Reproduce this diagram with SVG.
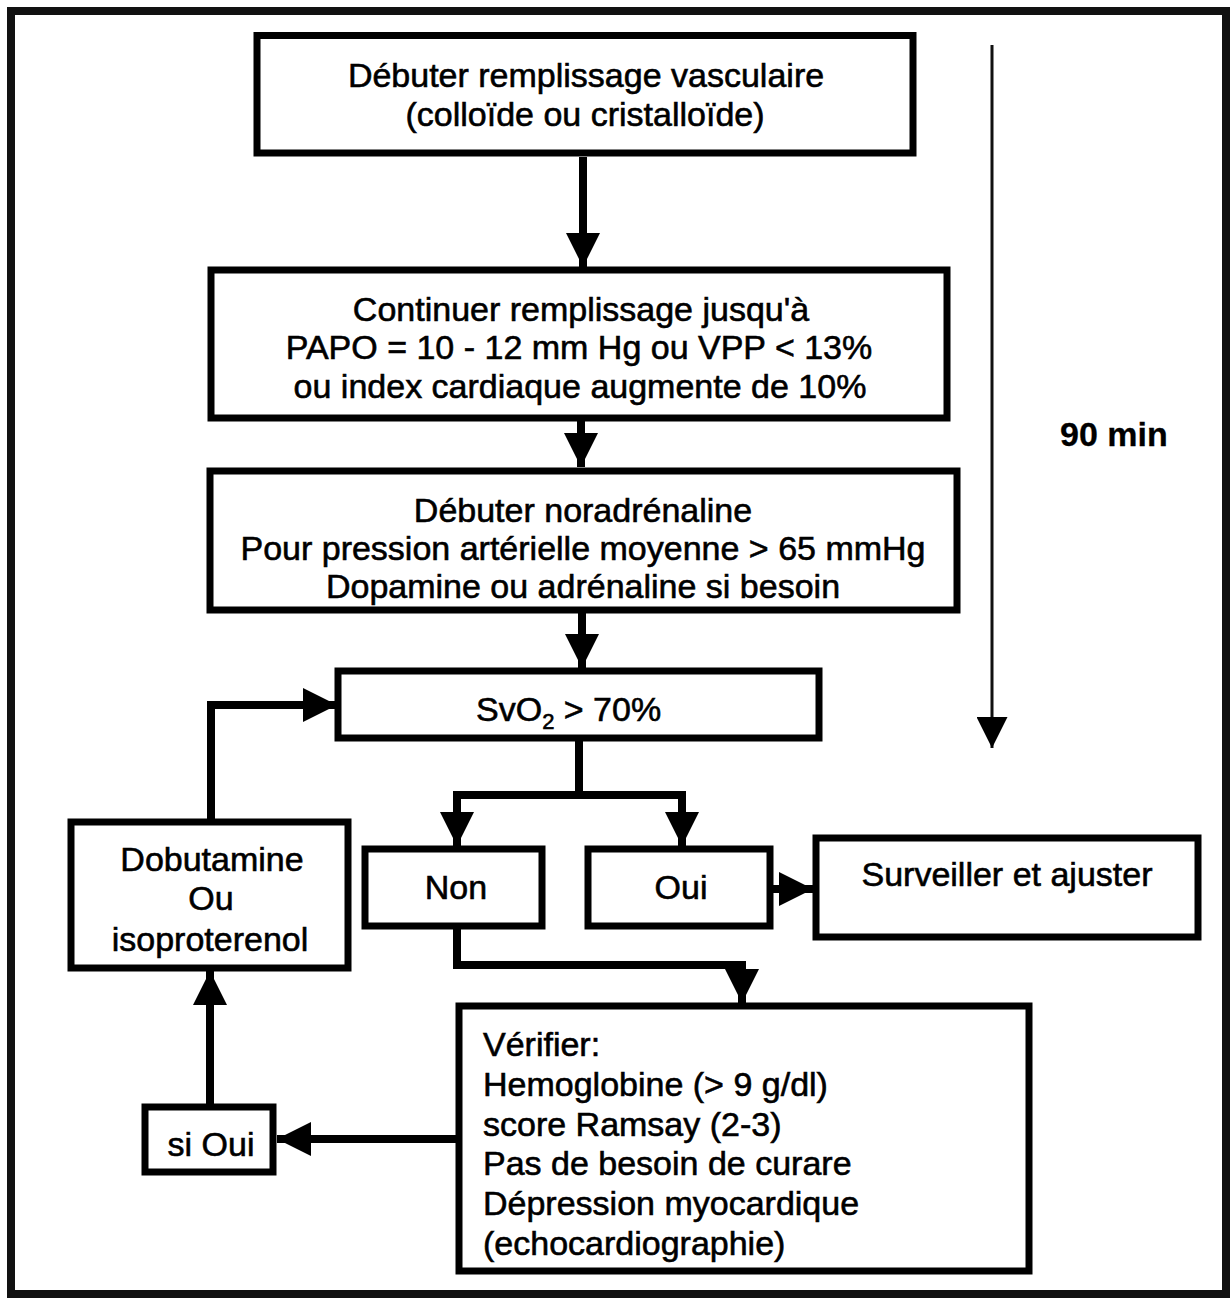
<svg xmlns="http://www.w3.org/2000/svg" width="1231" height="1301" viewBox="0 0 1231 1301">
  <style>
    .box { fill: #fff; stroke: #000; stroke-width: 7; }
    .frame { fill: none; stroke: #111; stroke-width: 8; }
    .lbl { font-family: "Liberation Sans", Arial, Helvetica, sans-serif; font-size: 34px; fill: #000; stroke: #000; stroke-width: 0.6; }
    .mid { text-anchor: middle; }
    .bold { font-weight: bold; stroke-width: 0.3; }
    .conn { fill: none; stroke: #000; stroke-width: 8; stroke-linejoin: miter; }
    .thin { fill: none; stroke: #111; stroke-width: 3; }
  </style>
  <defs>
    <marker id="ah" markerUnits="userSpaceOnUse" markerWidth="34" markerHeight="34" viewBox="0 0 34 34" refX="34" refY="17" orient="auto">
      <path d="M0,0 L34,17 L0,34 z" fill="#000"/>
    </marker>
    <marker id="ahThin" markerUnits="userSpaceOnUse" markerWidth="31" markerHeight="31" viewBox="0 0 31 31" refX="31" refY="15.5" orient="auto">
      <path d="M0,0 L31,15.5 L0,31 z" fill="#000"/>
    </marker>
  </defs>

  <rect id="page-frame" class="frame" x="11" y="11" width="1215" height="1283"/>

  <g id="connectors">
    <path class="conn" d="M583,157 V267" marker-end="url(#ah)"/>
    <path class="conn" d="M581,418 V467" marker-end="url(#ah)"/>
    <path class="conn" d="M582,610 V668" marker-end="url(#ah)"/>
    <path class="conn" d="M579,738 V795 H457 V846" marker-end="url(#ah)"/>
    <path class="conn" d="M579,795 H682 V846" marker-end="url(#ah)"/>
    <path class="conn" d="M770,889 H813" marker-end="url(#ah)"/>
    <path class="conn" d="M457,926 V965 H742 V1003" marker-end="url(#ah)"/>
    <path class="conn" d="M459,1139 H277" marker-end="url(#ah)"/>
    <path class="conn" d="M210,1107 V971" marker-end="url(#ah)"/>
    <path class="conn" d="M211,822 V705 H337" marker-end="url(#ah)"/>
    <path class="thin" d="M992,45 V748" marker-end="url(#ahThin)"/>
  </g>

  <g id="node-debuter-remplissage">
    <rect class="box" x="257" y="35.5" width="656" height="117.5"/>
    <text class="lbl mid" x="586" y="87">Débuter remplissage vasculaire</text>
    <text class="lbl mid" x="585" y="126">(colloïde ou cristalloïde)</text>
  </g>

  <g id="node-continuer-remplissage">
    <rect class="box" x="211" y="270" width="736" height="148"/>
    <text class="lbl mid" x="581" y="321">Continuer remplissage jusqu'à</text>
    <text class="lbl mid" x="579" y="359">PAPO = 10 - 12 mm Hg ou VPP &lt; 13%</text>
    <text class="lbl mid" x="580" y="398">ou index cardiaque augmente de 10%</text>
  </g>

  <g id="node-noradrenaline">
    <rect class="box" x="210" y="471" width="747" height="139"/>
    <text class="lbl mid" x="583" y="522">Débuter noradrénaline</text>
    <text class="lbl mid" x="583" y="560">Pour pression artérielle moyenne &gt; 65 mmHg</text>
    <text class="lbl mid" x="583" y="598">Dopamine ou adrénaline si besoin</text>
  </g>

  <g id="node-svo2">
    <rect class="box" x="338" y="671" width="481" height="67"/>
    <text class="lbl" x="476" y="721">SvO<tspan font-size="22" dy="8">2</tspan><tspan dy="-8"> &gt; 70%</tspan></text>
  </g>

  <g id="node-non">
    <rect class="box" x="365" y="849" width="177" height="77"/>
    <text class="lbl mid" x="456" y="899">Non</text>
  </g>

  <g id="node-oui">
    <rect class="box" x="588" y="849" width="182" height="77"/>
    <text class="lbl mid" x="681" y="899">Oui</text>
  </g>

  <g id="node-surveiller">
    <rect class="box" x="816" y="838" width="382" height="99"/>
    <text class="lbl mid" x="1007" y="886">Surveiller et ajuster</text>
  </g>

  <g id="node-dobutamine">
    <rect class="box" x="71" y="822" width="277" height="146"/>
    <text class="lbl mid" x="212" y="871">Dobutamine</text>
    <text class="lbl mid" x="211" y="910">Ou</text>
    <text class="lbl mid" x="210" y="951">isoproterenol</text>
  </g>

  <g id="node-si-oui">
    <rect class="box" x="145" y="1107" width="128" height="65"/>
    <text class="lbl mid" x="211" y="1156">si Oui</text>
  </g>

  <g id="node-verifier">
    <rect class="box" x="459" y="1006" width="570" height="265"/>
    <text class="lbl" x="483" y="1056">Vérifier:</text>
    <text class="lbl" x="483" y="1096">Hemoglobine (&gt; 9 g/dl)</text>
    <text class="lbl" x="483" y="1136">score Ramsay (2-3)</text>
    <text class="lbl" x="483" y="1175">Pas de besoin de curare</text>
    <text class="lbl" x="483" y="1215">Dépression myocardique</text>
    <text class="lbl" x="483" y="1255">(echocardiographie)</text>
  </g>

  <g id="timeline-label">
    <text class="lbl bold" x="1060" y="446">90 min</text>
  </g>
</svg>
